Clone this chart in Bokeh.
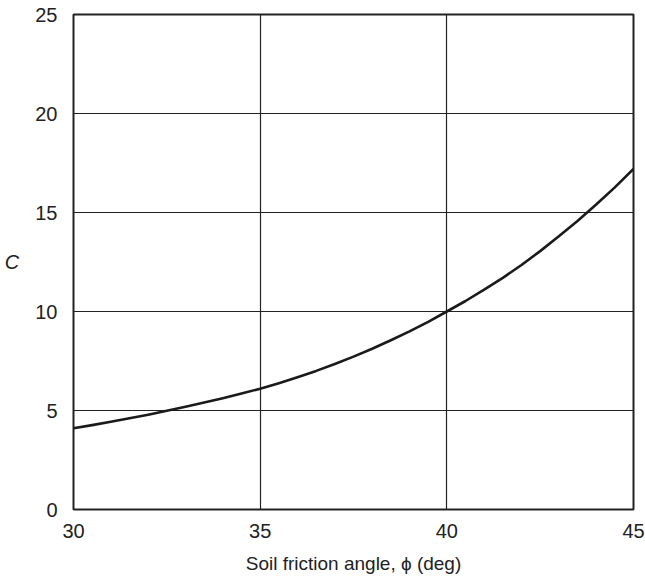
from bokeh.plotting import figure
from bokeh.models import Range1d, FixedTicker
from bokeh.embed import file_html
from bokeh.resources import INLINE

# Data
phi_deg = [30, 30.5, 31, 31.5, 32, 32.5, 33, 33.5, 34, 34.5, 35, 35.5, 36, 36.5, 37, 37.5,
           38, 38.5, 39, 39.5, 40, 40.5, 41, 41.5, 42, 42.5, 43, 43.5, 44, 44.5, 45]
c_values = [4.1, 4.26, 4.43, 4.61, 4.79, 4.99, 5.19, 5.4, 5.62, 5.86, 6.1, 6.38, 6.68, 7.0, 7.35, 7.72,
            8.12, 8.55, 9.0, 9.48, 10.0, 10.53, 11.1, 11.7, 12.35, 13.05, 13.8, 14.57, 15.4, 16.27, 17.2]
x_ticks = [30, 35, 40, 45]
y_ticks = [0, 5, 10, 15, 20, 25]
x_label = "Soil friction angle, \u03d5 (deg)"
y_label = "C"

FONT = "Liberation Sans"

p = figure(width=645, height=582, output_backend="svg", toolbar_location=None,
           x_range=Range1d(30, 45), y_range=Range1d(0, 25),
           min_border_left=73, min_border_right=12, min_border_top=14, min_border_bottom=73)

p.line(phi_deg, c_values, line_color="#1a1a1a", line_width=2.6, line_join="round")

for ax in (p.xaxis[0], p.yaxis[0]):
    ax.axis_line_color = None
    ax.major_tick_line_color = None
    ax.minor_tick_line_color = None
    ax.major_label_text_font = FONT
    ax.major_label_text_font_size = "20px"
    ax.major_label_text_color = "#222222"

p.xaxis[0].ticker = FixedTicker(ticks=x_ticks)
p.yaxis[0].ticker = FixedTicker(ticks=y_ticks)
p.xaxis[0].major_label_standoff = 8
p.yaxis[0].major_label_standoff = 10

p.xaxis[0].axis_label = x_label
p.xaxis[0].axis_label_text_font = FONT
p.xaxis[0].axis_label_text_font_style = "normal"
p.xaxis[0].axis_label_text_font_size = "19px"
p.xaxis[0].axis_label_text_color = "#222222"
p.xaxis[0].axis_label_standoff = 12

yax = p.yaxis[0]
yax.axis_label_orientation = "horizontal"
yax.axis_label = y_label
yax.axis_label_text_font = FONT
yax.axis_label_text_font_style = "italic"
yax.axis_label_text_font_size = "20px"
yax.axis_label_text_color = "#222222"
yax.axis_label_standoff = 13

p.xgrid[0].ticker = FixedTicker(ticks=x_ticks)
p.ygrid[0].ticker = FixedTicker(ticks=y_ticks)
for g in (p.xgrid[0], p.ygrid[0]):
    g.grid_line_color = "#222222"
    g.grid_line_width = 1.2
    g.grid_line_alpha = 1.0

p.outline_line_color = "#222222"
p.outline_line_width = 2
p.background_fill_color = "white"
p.border_fill_color = "white"

open("out.html", "w").write(file_html(p, INLINE))
